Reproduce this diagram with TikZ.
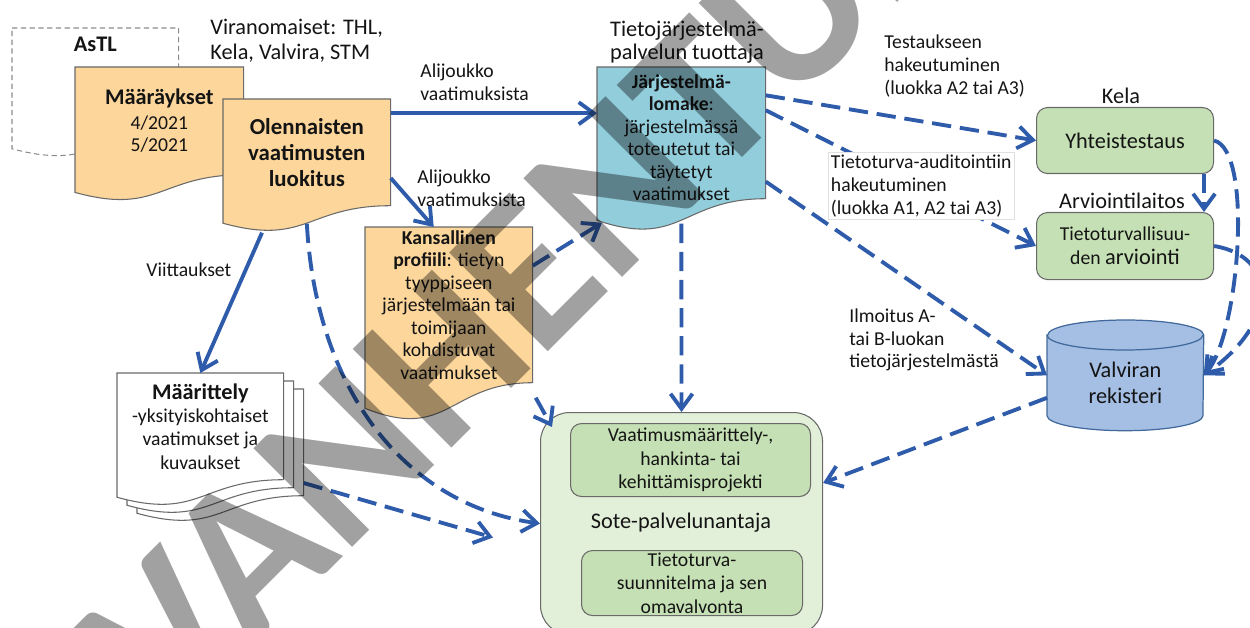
\documentclass[tikz,border=0pt]{standalone}
\usepackage{fontspec}
\setmainfont{Carlito}
\usetikzlibrary{arrows.meta,positioning,calc,backgrounds}
\definecolor{vkarrow}{RGB}{47,92,170}
\definecolor{vkorange}{RGB}{252,214,155}
\definecolor{vkblue}{RGB}{146,205,220}
\definecolor{vkgreen}{RGB}{197,224,180}
\definecolor{vkpale}{RGB}{227,240,217}
\definecolor{vkcyl}{RGB}{164,190,228}
\definecolor{vkcyledge}{RGB}{65,105,155}
\definecolor{vkedge}{RGB}{105,105,105}
\definecolor{vkink}{RGB}{20,20,20}
\newcommand{\px}{0.02cm}
\newcommand{\bigtxt}{\fontsize{12.7}{15}\selectfont}
% document shape: flat part is the node, the wave hangs below it
\newcommand{\docpath}[2]{%
  \path[#2] (#1.north west) -- (#1.north east) -- (#1.south east)
    .. controls (#1.south) and ($(#1.south)!-0.38!(#1.north)$)
    .. ($(#1.south west)!-0.1646!(#1.north west)$) -- cycle;}
\tikzset{
  docbox/.style={inner sep=0pt, align=center, anchor=north west,
    font=\fontsize{11.2}{12.8}\selectfont, text=vkink},
  docfill/.style={fill=#1, draw=vkedge, line width=0.6pt},
  greenbox/.style={draw=vkedge, fill=vkgreen, line width=0.6pt, rounded corners=0.22cm,
    inner sep=0pt, align=center, anchor=north west,
    font=\fontsize{11.2}{13.3}\selectfont, text=vkink},
  sotebox/.style={draw=vkedge, fill=vkpale, line width=0.6pt, rounded corners=0.58cm,
    inner sep=0pt, anchor=north west},
  cyl/.style={fill=vkcyl, draw=vkcyledge, line width=0.7pt},
  lbl/.style={font=\fontsize{11.2}{13}\selectfont, text=vkink, align=left, inner sep=0pt},
  biglbl/.style={font=\fontsize{12.7}{14.2}\selectfont, text=vkink, align=center, inner sep=0pt},
  arr/.style={-{Straight Barb[length=3mm,width=4.4mm]}, draw=vkarrow, line width=2.2pt},
  darr/.style={arr, dash pattern=on 11pt off 5pt},
  wmark/.style={font=\fontsize{122.5}{122.5}\selectfont\bfseries, text=black, text opacity=0.37,
    inner sep=0pt}
}
\begin{document}
\begin{tikzpicture}[x=0.02cm,y=-0.02cm]
  \useasboundingbox (0,0) rectangle (1250,628);
  % documents
  \node[docbox, minimum width=166*\px, minimum height=103*\px] (astl) at (12,28) {};
  \node[docbox, font=\bigtxt\bfseries, anchor=north] (astltxt) at ($(astl.north)+(0,9)$) {AsTL};
  \node[docbox, minimum width=168*\px, minimum height=107*\px] (maarays) at (75,67)
    {{\bigtxt\bfseries Määräykset}\\[1pt] 4/2021\\ 5/2021};
  \node[docbox, font=\fontsize{13}{14.7}\selectfont\bfseries,
    minimum width=167*\px, minimum height=106*\px] (olen) at (223,99)
    {Olennaisten\\vaatimusten\\luokitus};
  \node[docbox, minimum width=168*\px, minimum height=131*\px] (jlom) at (597,67) {};
  \node[docbox, anchor=center] (jlomtxt) at ($(jlom.center)+(0,5)$)
    {\textbf{Järjestelmä-}\\\textbf{lomake}:\\järjestelmässä\\toteutetut tai\\täytetyt\\vaatimukset};
  \node[docbox, minimum width=167*\px, minimum height=155*\px] (kans) at (365,227)
    {\textbf{Kansallinen}\\\textbf{profiili}: tietyn\\tyyppiseen\\järjestelmään tai\\toimijaan\\kohdistuvat\\vaatimukset};
  \node[docbox, minimum width=166*\px, minimum height=106*\px] (maar3) at (137,389) {};
  \node[docbox, minimum width=166*\px, minimum height=106*\px] (maar2) at (127,381) {};
  \node[docbox, font=\fontsize{11.2}{13.3}\selectfont,
    minimum width=166*\px, minimum height=106*\px] (maar) at (117,373)
    {{\bigtxt\bfseries Määrittely}\\-yksityiskohtaiset\\vaatimukset ja\\kuvaukset};
  \begin{scope}[on background layer]
    \docpath{astl}{draw=black!45, line width=0.6pt, dash pattern=on 3pt off 2pt, fill=white}
    \docpath{maarays}{docfill=vkorange}
    \docpath{olen}{docfill=vkorange}
    \docpath{jlom}{docfill=vkblue}
    \docpath{kans}{docfill=vkorange}
    \docpath{maar3}{docfill=white}
    \docpath{maar2}{docfill=white}
    \docpath{maar}{docfill=white}
  \end{scope}

  % sote-palvelunantaja
  \node[sotebox, minimum width=282*\px, minimum height=222*\px] (sote) at (540,412) {};
  \node[biglbl] (sotetxt) at (681,523) {Sote-palvelunantaja};
  \node[greenbox, minimum width=240*\px, minimum height=73*\px] (hanke) at (570,423)
    {Vaatimusmäärittely-,\\hankinta- tai\\kehittämisprojekti};
  \node[greenbox, minimum width=221*\px, minimum height=65*\px] (omaval) at (581,550)
    {Tietoturva-\\suunnitelma ja sen\\omavalvonta};

  % Kela, arviointilaitos, Valvira
  \node[greenbox, font=\bigtxt, minimum width=177*\px, minimum height=66*\px] (yht) at (1036,107)
    {Yhteistestaus};
  \node[greenbox, font=\fontsize{11.2}{13.6}\selectfont,
    minimum width=177*\px, minimum height=67*\px] (arv) at (1036,212)
    {Tietoturvallisuu-\\den {\bigtxt arviointi}};
  \node[biglbl] (kela) at (1121,96) {Kela};
  \node[biglbl] (arvlaitos) at (1122,201) {Arviointilaitos};
  \node[docbox, minimum width=156*\px, minimum height=110*\px] (valv) at (1047,320) {};
  \path[cyl] ($(valv.north west)+(0,15)$) -- ($(valv.south west)+(0,-15)$)
    arc[start angle=180, end angle=360, x radius=1.56cm, y radius=0.3cm]
    -- ($(valv.north east)+(0,15)$)
    arc[start angle=0, end angle=180, x radius=1.56cm, y radius=0.3cm] -- cycle;
  \draw[cyl, fill=none] ($(valv.north west)+(0,15)$)
    arc[start angle=180, end angle=360, x radius=1.56cm, y radius=0.3cm];
  \node[biglbl, font=\fontsize{12.7}{14.8}\selectfont] (valvtxt) at ($(valv.center)+(0,7)$)
    {Valviran\\rekisteri};

  % labels
  \node[biglbl, align=left, anchor=west] (viran) at (210,41) {Viranomaiset: THL,\\Kela, Valvira, STM};
  \node[biglbl, font=\fontsize{12.7}{13}\selectfont] (tuottaja) at (687,42)
    {Tietojärjestelmä-\\palvelun tuottaja};
  \node[lbl, anchor=west] (ali1) at (420,82) {Alijoukko\\vaatimuksista};
  \node[lbl, anchor=west] (ali2) at (417,188) {Alijoukko\\vaatimuksista};
  \node[lbl, anchor=west] (viitt) at (146,270) {Viittaukset};
  \node[lbl, anchor=west] (testa) at (884,66) {Testaukseen\\hakeutuminen\\(luokka A2 tai A3)};
  \node[lbl, anchor=west] (ilmo) at (849,340) {Ilmoitus A-\\tai B-luokan\\tietojärjestelmästä};

  % connectors
  \draw[arr] (olen.25) -- (olen.25 -| jlom.west);
  \draw[arr] (olen.-17) -- (kans.101);
  \draw[arr] ($(olen.south west)+(39,27)$) -- (maar.north);
  \draw[darr] ($(olen.south)+(0,18)$) .. controls (316,390) and (405,505) .. (sote.west);
  \draw[darr] (maar3.-26) -- ($(sote.west)+(-47,14)$);
  \draw[darr] (kans.25) -- ($(jlom.south west)+(5,24)$);
  \draw[darr] ($(kans.south east)+(3,15)$) -- ($(sote.north west)+(12,15)$);
  \draw[darr] ($(jlom.south)+(0,25)$) -- (sote.north);
  \draw[darr] (jlom.24) -- (yht.west);
  \draw[darr] (jlom.15) -- (arv.west);
  \draw[darr] (jlom.-30) -- (valv.west);
  \draw[darr] ($(yht.south east)+(-10,0)$) -- ($(arv.north east)+(-10,0)$);
  \draw[darr] (yht.east) .. controls +(40,10) and +(35,-40) .. (valv.east);
  \draw[darr] (arv.east) .. controls +(62,10) and +(77,-55) .. (valv.east);
  \draw[darr] (valv.196) -- (sote.16);

  \node[lbl, anchor=north west, fill=white, draw=black!12, line width=0.4pt, inner sep=1.5pt]
    (audit) at (828,152) {Tietoturva-auditointiin\\hakeutuminen\\(luokka A1, A2 tai A3)};

  % watermark
  \node[wmark, rotate=45, anchor=base west] (vanh) at (169,731) {VANHENTUNUT};
\end{tikzpicture}
\end{document}
